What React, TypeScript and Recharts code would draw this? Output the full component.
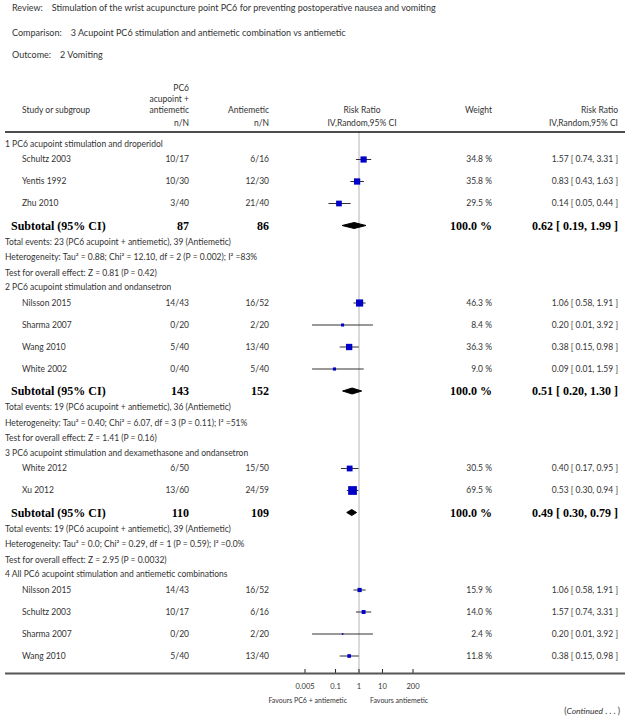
import React from 'react';
import { ComposedChart, Scatter, XAxis, YAxis, ReferenceLine, ErrorBar } from 'recharts';

// ---------- data ----------
const reviewTitle = 'Stimulation of the wrist acupuncture point PC6 for preventing postoperative nausea and vomiting';
const comparisonTitle = '3 Acupoint PC6 stimulation and antiemetic combination vs antiemetic';
const outcomeTitle = '2 Vomiting';

const subgroupTitles = [
  '1 PC6 acupoint stimulation and droperidol',
  '2 PC6 acupoint stimulation and ondansetron',
  '3 PC6 acupoint stimulation and dexamethasone and ondansetron',
  '4 All PC6 acupoint stimulation and antiemetic combinations',
];

const droperidolStudies = [
  { study: 'Schultz 2003', pc6: '10/17', anti: '6/16', weight: 34.8, rr: 1.57, lo: 0.74, hi: 3.31 },
  { study: 'Yentis 1992', pc6: '10/30', anti: '12/30', weight: 35.8, rr: 0.83, lo: 0.43, hi: 1.63 },
  { study: 'Zhu 2010', pc6: '3/40', anti: '21/40', weight: 29.5, rr: 0.14, lo: 0.05, hi: 0.44 },
];
const ondansetronStudies = [
  { study: 'Nilsson 2015', pc6: '14/43', anti: '16/52', weight: 46.3, rr: 1.06, lo: 0.58, hi: 1.91 },
  { study: 'Sharma 2007', pc6: '0/20', anti: '2/20', weight: 8.4, rr: 0.2, lo: 0.01, hi: 3.92 },
  { study: 'Wang 2010', pc6: '5/40', anti: '13/40', weight: 36.3, rr: 0.38, lo: 0.15, hi: 0.98 },
  { study: 'White 2002', pc6: '0/40', anti: '5/40', weight: 9.0, rr: 0.09, lo: 0.01, hi: 1.59 },
];
const dexaOndansetronStudies = [
  { study: 'White 2012', pc6: '6/50', anti: '15/50', weight: 30.5, rr: 0.4, lo: 0.17, hi: 0.95 },
  { study: 'Xu 2012', pc6: '13/60', anti: '24/59', weight: 69.5, rr: 0.53, lo: 0.3, hi: 0.94 },
];
const allCombinationStudies = [
  { study: 'Nilsson 2015', pc6: '14/43', anti: '16/52', weight: 15.9, rr: 1.06, lo: 0.58, hi: 1.91 },
  { study: 'Schultz 2003', pc6: '10/17', anti: '6/16', weight: 14.0, rr: 1.57, lo: 0.74, hi: 3.31 },
  { study: 'Sharma 2007', pc6: '0/20', anti: '2/20', weight: 2.4, rr: 0.2, lo: 0.01, hi: 3.92 },
  { study: 'Wang 2010', pc6: '5/40', anti: '13/40', weight: 11.8, rr: 0.38, lo: 0.15, hi: 0.98 },
];
const subgroupStudies = [droperidolStudies, ondansetronStudies, dexaOndansetronStudies, allCombinationStudies];

const subtotals = [
  { pc6Total: 87, antiTotal: 86, weight: 100.0, rr: 0.62, lo: 0.19, hi: 1.99 },
  { pc6Total: 143, antiTotal: 152, weight: 100.0, rr: 0.51, lo: 0.2, hi: 1.3 },
  { pc6Total: 110, antiTotal: 109, weight: 100.0, rr: 0.49, lo: 0.3, hi: 0.79 },
  null,
];
const totalEventsLines = [
  'Total events: 23 (PC6 acupoint + antiemetic), 39 (Antiemetic)',
  'Total events: 19 (PC6 acupoint + antiemetic), 36 (Antiemetic)',
  'Total events: 19 (PC6 acupoint + antiemetic), 39 (Antiemetic)',
];
const heterogeneityLines = [
  'Heterogeneity: Tau\u00B2 = 0.88; Chi\u00B2 = 12.10, df = 2 (P = 0.002); I\u00B2 =83%',
  'Heterogeneity: Tau\u00B2 = 0.40; Chi\u00B2 = 6.07, df = 3 (P = 0.11); I\u00B2 =51%',
  'Heterogeneity: Tau\u00B2 = 0.0; Chi\u00B2 = 0.29, df = 1 (P = 0.59); I\u00B2 =0.0%',
];
const overallEffectLines = [
  'Test for overall effect: Z = 0.81 (P = 0.42)',
  'Test for overall effect: Z = 1.41 (P = 0.16)',
  'Test for overall effect: Z = 2.95 (P = 0.0032)',
];
const xTicks = [0.005, 0.1, 1, 10, 200];
const xDomain = [0.005, 200];

// ---------- layout ----------
const W = 629;
const H = 725;
const PLOT_TOP = 132;
const PLOT_BOTTOM = 673;
const PLOT_LEFT = 305;
const PLOT_RIGHT = 413;
const LAYOUT = { first: 12, headerToStudy: 15.5, study: 22, studyToSubtotal: 22, subtotalToInfo: 16.5, info: 15.5, infoToHeader: 14.5 };
const DIAMOND_HALF = 3;
const SANS = 'Lato, "Open Sans", "DejaVu Sans", sans-serif';
const SERIF = '"Liberation Serif", "DejaVu Serif", serif';
const TEXT = '#333';
const FS = 8.5;
const TOP_FS = 9;
const BOLD_FS = 12;
const COL = { group: 5, study: 22, subtotal: 11, pc6: 189, anti: 269, weight: 492, rr: 618 };

const fmt = (v: number) => v.toFixed(2);
const ciText = (r: any) => `${fmt(r.rr)} [ ${fmt(r.lo)}, ${fmt(r.hi)} ]`;

const rows: any[] = [];
{
  let pos = LAYOUT.first;
  subgroupTitles.forEach((title, g) => {
    if (g > 0) pos += LAYOUT.infoToHeader;
    rows.push({ kind: 'header', x: 1, y: pos, text: title });
    subgroupStudies[g].forEach((s, i) => {
      pos += i === 0 ? LAYOUT.headerToStudy : LAYOUT.study;
      rows.push({ kind: 'study', x: s.rr, y: pos, err: [s.rr - s.lo, s.hi - s.rr], ...s });
    });
    const st = subtotals[g];
    if (st) {
      pos += LAYOUT.studyToSubtotal;
      rows.push({ kind: 'subtotal', x: st.rr, y: pos, ...st });
      [totalEventsLines[g], heterogeneityLines[g], overallEffectLines[g]].forEach((t, k) => {
        pos += k === 0 ? LAYOUT.subtotalToInfo : LAYOUT.info;
        rows.push({ kind: 'info', x: 1, y: pos, text: t });
      });
    }
  });
}
const studyRows = rows.filter((r) => r.kind === 'study');
const subtotalRows = rows.filter((r) => r.kind === 'subtotal');
const diamondPoints = (r: any) => [
  { x: r.lo, y: r.y },
  { x: r.rr, y: r.y - DIAMOND_HALF },
  { x: r.hi, y: r.y },
  { x: r.rr, y: r.y + DIAMOND_HALF },
  { x: r.lo, y: r.y },
];

// ---------- shapes ----------
const RowText = (p: any) => {
  const r = p.payload || p;
  const cy = p.cy;
  const t = { fontFamily: SANS, fontSize: FS, fill: TEXT, dy: '0.35em' } as any;
  const b = { fontFamily: SERIF, fontSize: BOLD_FS, fontWeight: 'bold', fill: '#000', dy: '0.35em' } as any;
  if (r.kind === 'header' || r.kind === 'info') {
    return <text x={COL.group} y={cy} {...t}>{r.text}</text>;
  }
  if (r.kind === 'study') {
    return (
      <g>
        <text x={COL.study} y={cy} {...t}>{r.study}</text>
        <text x={COL.pc6} y={cy} textAnchor="end" {...t}>{r.pc6}</text>
        <text x={COL.anti} y={cy} textAnchor="end" {...t}>{r.anti}</text>
        <text x={COL.weight} y={cy} textAnchor="end" {...t}>{`${r.weight.toFixed(1)} %`}</text>
        <text x={COL.rr} y={cy} textAnchor="end" {...t}>{ciText(r)}</text>
      </g>
    );
  }
  if (r.kind === 'subtotal') {
    return (
      <g>
        <text x={COL.subtotal} y={cy} {...b}>Subtotal (95% CI)</text>
        <text x={COL.pc6} y={cy} textAnchor="end" {...b}>{r.pc6Total}</text>
        <text x={COL.anti} y={cy} textAnchor="end" {...b}>{r.antiTotal}</text>
        <text x={COL.weight} y={cy} textAnchor="end" {...b}>{`${r.weight.toFixed(1)} %`}</text>
        <text x={COL.rr} y={cy} textAnchor="end" {...b}>{ciText(r)}</text>
      </g>
    );
  }
  return <g />;
};

const StudySquare = (p: any) => {
  const r = p.payload || p;
  const s = 1.05 * Math.sqrt(r.weight);
  return <rect x={p.cx - s / 2} y={p.cy - s / 2} width={s} height={s} fill="#0000c8" />;
};
const EmptyShape = () => <g />;

export default function App() {
  const hdr = { fontFamily: SANS, fontSize: FS, fill: TEXT, dy: '0.35em' } as any;
  const top = { fontFamily: SANS, fontSize: TOP_FS, fill: TEXT, dy: '0.35em' } as any;
  return (
    <div style={{ position: 'absolute', left: 0, top: 0, width: W, height: H, background: '#fff' }}>
      <ComposedChart width={W} height={H} margin={{ top: PLOT_TOP, right: W - PLOT_RIGHT, bottom: H - PLOT_BOTTOM - 30, left: PLOT_LEFT }}>
        <XAxis
          dataKey="x"
          type="number"
          scale="log"
          domain={xDomain}
          ticks={xTicks}
          interval={0}
          height={30}
          axisLine={false}
          tickLine={{ stroke: '#222' }}
          tickSize={-4}
          tickMargin={15}
          tick={{ fontSize: 7.5, fill: TEXT, fontFamily: SANS }}
          tickFormatter={(v: number) => String(v)}
        />
        <YAxis dataKey="y" type="number" domain={[0, PLOT_BOTTOM - PLOT_TOP]} reversed hide width={0} />
        <ReferenceLine x={1} stroke="#b4b4b4" strokeWidth={1} />
        <Scatter data={rows} shape={RowText} isAnimationActive={false} />
        <Scatter data={studyRows} shape={StudySquare} isAnimationActive={false}>
          <ErrorBar dataKey="err" direction="x" width={0} stroke="#333" strokeWidth={1} />
        </Scatter>
        {subtotalRows.map((r, i) => (
          <Scatter
            key={i}
            data={diamondPoints(r)}
            shape={EmptyShape}
            line={{ stroke: '#000', fill: '#000', strokeWidth: 1 }}
            lineType="joint"
            isAnimationActive={false}
          />
        ))}
      </ComposedChart>
      <svg width={W} height={H} style={{ position: 'absolute', left: 0, top: 0, pointerEvents: 'none' }}>
        <text x={12} y={8} {...top}>Review:<tspan dx={9}>{reviewTitle}</tspan></text>
        <text x={12} y={33} {...top}>Comparison:<tspan dx={9}>{comparisonTitle}</tspan></text>
        <text x={12} y={55} {...top}>Outcome:<tspan dx={9}>{outcomeTitle}</tspan></text>

        <text x={COL.pc6} y={88} textAnchor="end" {...hdr}>PC6</text>
        <text x={COL.pc6} y={99} textAnchor="end" {...hdr}>acupoint +</text>
        <text x={COL.pc6} y={110} textAnchor="end" {...hdr}>antiemetic</text>
        <text x={COL.study} y={110} {...hdr}>Study or subgroup</text>
        <text x={COL.anti} y={110} textAnchor="end" {...hdr}>Antiemetic</text>
        <text x={362} y={110} textAnchor="middle" {...hdr}>Risk Ratio</text>
        <text x={COL.weight} y={110} textAnchor="end" {...hdr}>Weight</text>
        <text x={COL.rr} y={110} textAnchor="end" {...hdr}>Risk Ratio</text>
        <text x={COL.pc6} y={123} textAnchor="end" {...hdr}>n/N</text>
        <text x={COL.anti} y={123} textAnchor="end" {...hdr}>n/N</text>
        <text x={362} y={123} textAnchor="middle" {...hdr}>IV,Random,95% CI</text>
        <text x={COL.rr} y={123} textAnchor="end" {...hdr}>IV,Random,95% CI</text>
        <line x1={5} x2={625} y1={PLOT_TOP} y2={PLOT_TOP} stroke="#111" strokeWidth={1.6} />
        <line x1={5} x2={625} y1={PLOT_BOTTOM + 0.5} y2={PLOT_BOTTOM + 0.5} stroke="#555" strokeWidth={2} />

        <text x={347} y={701} textAnchor="end" fontFamily={SANS} fontSize={7} fill={TEXT} dy="0.35em">Favours PC6 + antiemetic</text>
        <text x={370} y={701} fontFamily={SANS} fontSize={7} fill={TEXT} dy="0.35em">Favours antiemetic</text>
        <text x={620} y={711} textAnchor="end" fontFamily={SANS} fontSize={8.5} fill={TEXT} dy="0.35em">
          (<tspan fontStyle="italic">Continued</tspan> . . . )
        </text>
      </svg>
    </div>
  );
}
